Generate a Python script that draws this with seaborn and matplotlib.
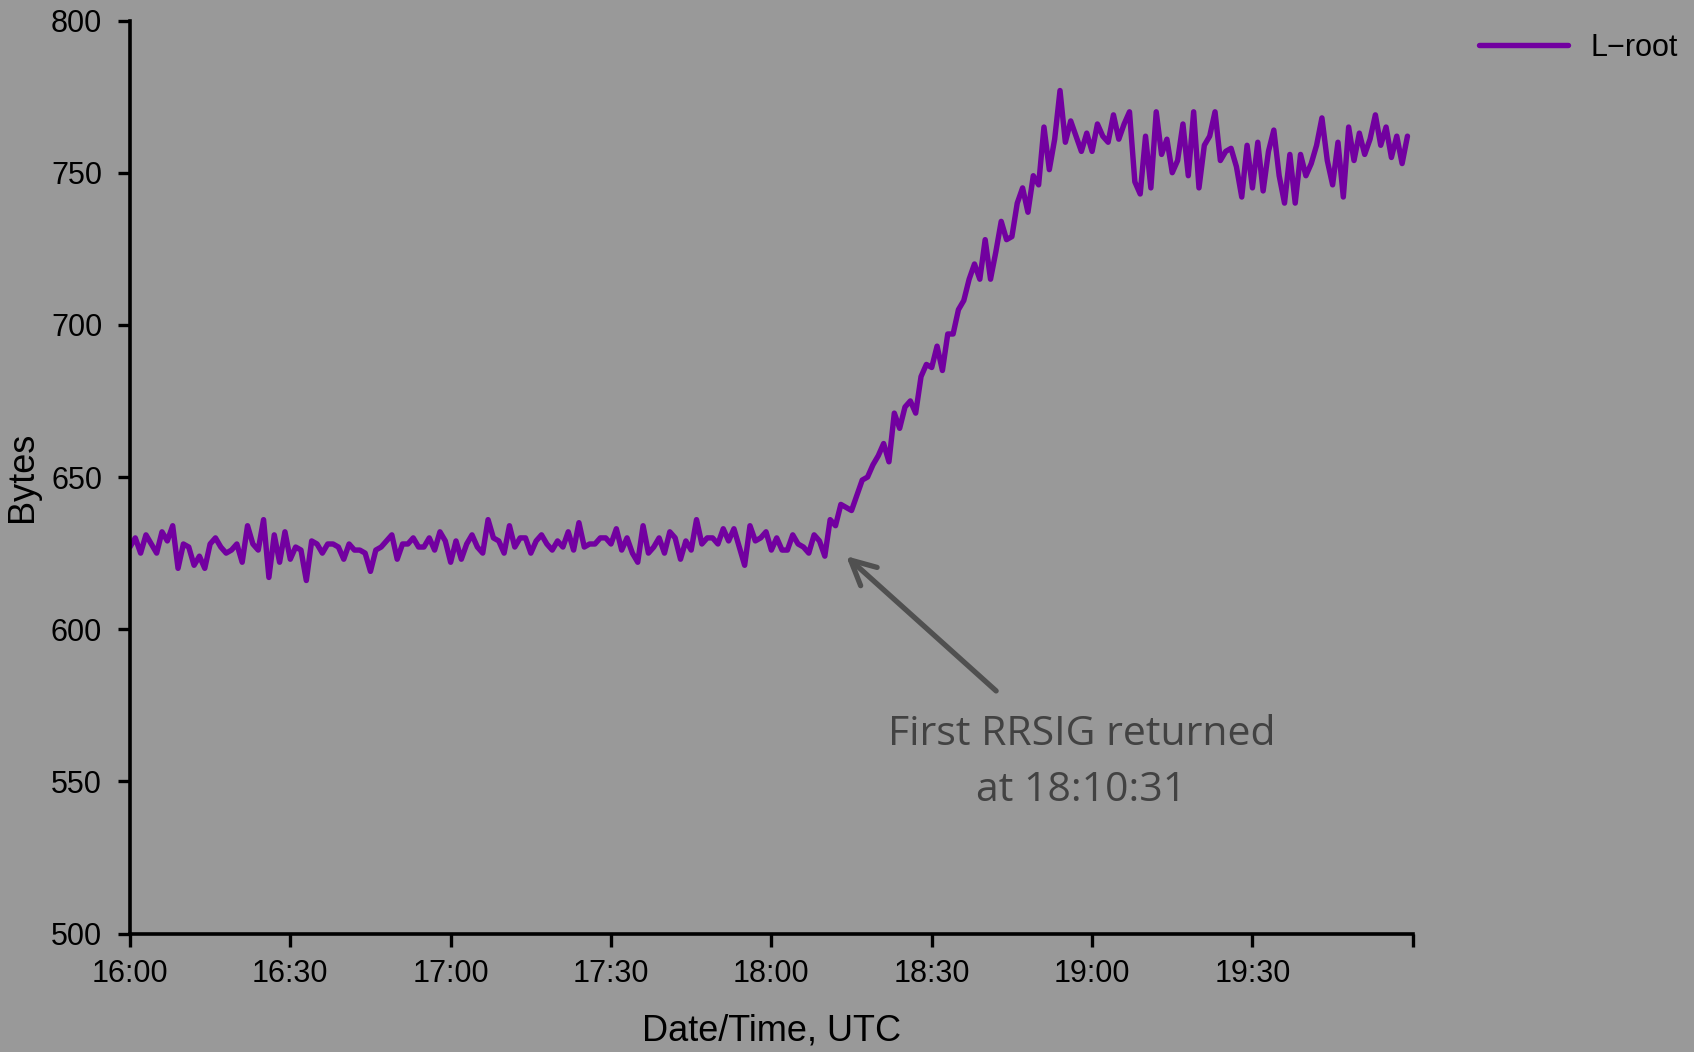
import matplotlib
matplotlib.use("Agg")
import matplotlib.pyplot as plt
import matplotlib.dates as mdates
import numpy as np
import pandas as pd
import seaborn as sns

# one sample per minute, 16:00 -> 19:59 UTC
start_time = "2010-05-05 16:00"
bytes_1600 = [627, 630, 625, 631, 628, 625, 632, 629, 634, 620, 628, 627, 621, 624, 620,
              628, 630, 627, 625, 626, 628, 622, 634, 628, 626, 636, 617, 631, 622, 632]
bytes_1630 = [623, 627, 626, 616, 629, 628, 625, 628, 628, 627, 623, 628, 626, 626, 625,
              619, 626, 627, 629, 631, 623, 628, 628, 630, 627, 627, 630, 626, 632, 629]
bytes_1700 = [622, 629, 623, 628, 631, 627, 625, 636, 630, 629, 625, 634, 627, 630, 630,
              625, 629, 631, 628, 626, 629, 627, 632, 626, 635, 627, 628, 628, 630, 630]
bytes_1730 = [628, 633, 626, 630, 625, 622, 634, 625, 627, 630, 625, 632, 630, 623, 629,
              626, 636, 628, 630, 630, 628, 633, 629, 633, 627, 621, 634, 629, 630, 632]
bytes_1800 = [626, 630, 626, 626, 631, 628, 627, 625, 631, 629, 624, 636, 634, 641, 640,
              639, 644, 649, 650, 654, 657, 661, 655, 671, 666, 673, 675, 671, 683, 687]
bytes_1830 = [686, 693, 685, 697, 697, 705, 708, 715, 720, 715, 728, 715, 724, 734, 728,
              729, 740, 745, 737, 749, 746, 765, 751, 761, 777, 760, 767, 762, 757, 763]
bytes_1900 = [757, 766, 762, 760, 769, 761, 766, 770, 747, 743, 762, 745, 770, 756, 761,
              750, 754, 766, 749, 770, 745, 759, 762, 770, 754, 757, 758, 752, 742, 759,
              745, 760, 744, 757, 764, 749, 740, 756, 740, 756, 749, 753, 759, 768, 754,
              746, 760, 742, 765, 754, 763, 756, 761, 769, 759, 765, 755, 762, 753, 762]

y_ticks = [500, 550, 600, 650, 700, 750, 800]
x_tick_labels = ["16:00", "16:30", "17:00", "17:30", "18:00", "18:30", "19:00", "19:30", ""]
series_label = "L\u2212root"
note_text = "First RRSIG returned\nat 18:10:31"

values = bytes_1600 + bytes_1630 + bytes_1700 + bytes_1730 + bytes_1800 + bytes_1830 + bytes_1900
times = pd.date_range(start_time, periods=len(values), freq="min")
df = pd.DataFrame({"time": times, "bytes": values})

bg = "#999999"
purple = "#7200A0"

sns.set_style("ticks")
plt.rcParams["font.family"] = ["Liberation Sans", "DejaVu Sans"]
plt.rcParams["text.color"] = "black"
plt.rcParams["axes.labelcolor"] = "black"
plt.rcParams["xtick.color"] = "black"
plt.rcParams["ytick.color"] = "black"

fig = plt.figure(figsize=(16.94, 10.52), dpi=100, facecolor=bg)
ax = fig.add_axes([0.0767, 0.1126, 0.834 - 0.0767, 0.9805 - 0.1126])
ax.set_facecolor(bg)

sns.lineplot(data=df, x="time", y="bytes", ax=ax, color=purple, linewidth=3.9,
             label=series_label, legend=False)

day0 = pd.Timestamp(start_time)
x_ticks = [day0 + pd.Timedelta(minutes=30 * i) for i in range(9)]
ax.set_xlim(x_ticks[0], x_ticks[-1])
ax.set_ylim(500, 800)
ax.set_xticks(x_ticks)
ax.set_xticklabels(x_tick_labels)
ax.set_yticks(y_ticks)
ax.tick_params(axis="both", labelsize=22, length=9, width=2.4,
               color="black", labelcolor="black")
ax.tick_params(axis="x", pad=9)
ax.tick_params(axis="y", pad=11)

for s in ["top", "right"]:
    ax.spines[s].set_visible(False)
for s in ["left", "bottom"]:
    ax.spines[s].set_linewidth(2.6)
    ax.spines[s].set_color("black")

ax.set_xlabel("Date/Time, UTC", fontsize=26, labelpad=18)
ax.set_ylabel("Bytes", fontsize=26, labelpad=8)

ax.annotate(note_text,
            xy=(mdates.date2num(day0 + pd.Timedelta(minutes=134)), 624),
            xytext=(mdates.date2num(day0 + pd.Timedelta(minutes=178)), 556),
            textcoords="data", ha="center", va="center",
            fontsize=29.5, color="#424242", family=["Open Sans", "DejaVu Sans"],
            linespacing=1.5,
            arrowprops=dict(arrowstyle="->,head_length=0.6,head_width=0.3",
                            color="#505050", lw=3.8,
                            shrinkA=0, shrinkB=0,
                            relpos=(0.28, 1.25)))

handles, labels = ax.get_legend_handles_labels()
fig.legend(handles, labels, loc="upper right", bbox_to_anchor=(1.007, 0.995),
           frameon=False, fontsize=22, handlelength=2.9, handletextpad=0.75)

fig.savefig("out.png", dpi=100, facecolor=bg)
